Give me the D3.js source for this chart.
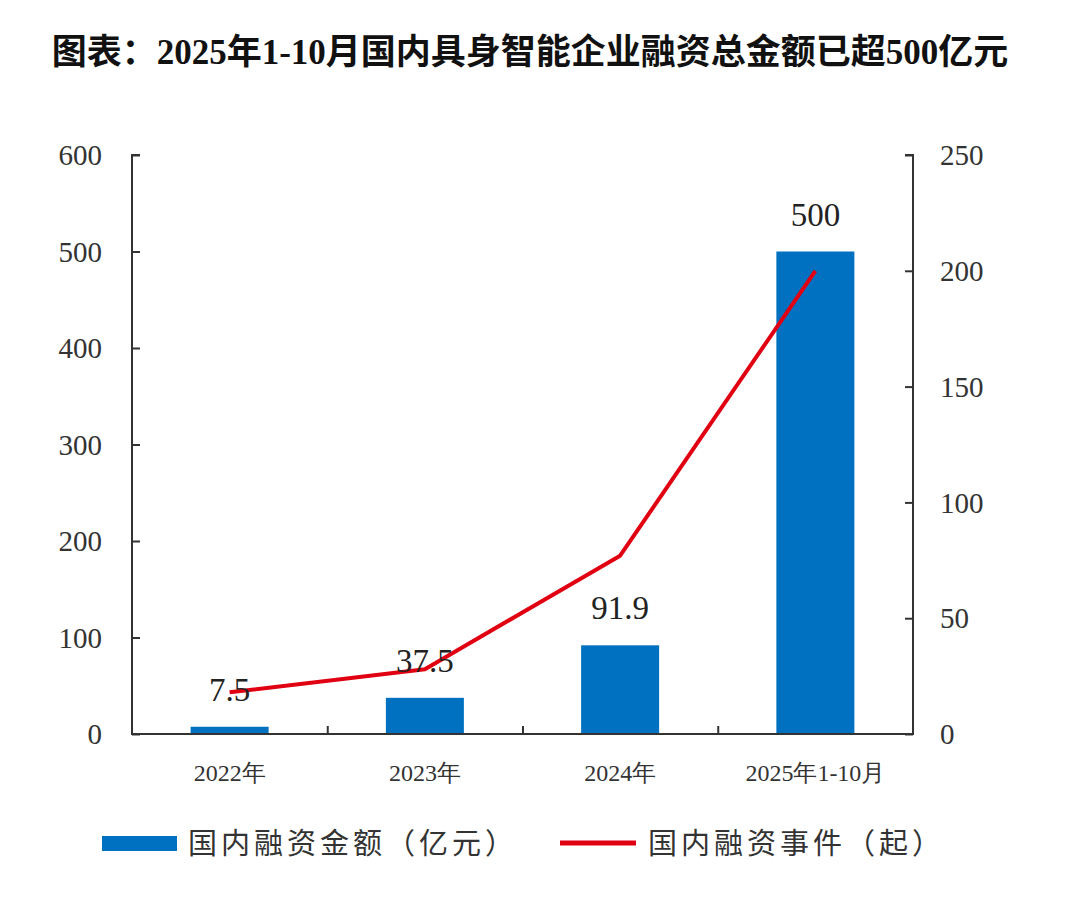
<!DOCTYPE html>
<html><head><meta charset="utf-8">
<script src="https://cdn.jsdelivr.net/npm/d3@7"></script>
<style>body{margin:0;background:#fff;} svg{display:block;}</style>
</head><body>
<svg id="c" width="1080" height="922"></svg>
<script>
const titleText = "图表：2025年1-10月国内具身智能企业融资总金额已超500亿元";
const categories = ["2022年", "2023年", "2024年", "2025年1-10月"];
const amounts = [7.5, 37.5, 91.9, 500];
const amountLabels = ["7.5", "37.5", "91.9", "500"];
const events = [18, 28, 77, 200];
const leftTicks = [0, 100, 200, 300, 400, 500, 600];
const rightTicks = [0, 50, 100, 150, 200, 250];
const seriesNames = ["国内融资金额（亿元）", "国内融资事件（起）"];

const svg = d3.select("#c");
const m = {l: 132, r: 913, t: 155, b: 734};
const serif = "'Liberation Serif','Times New Roman',serif";
const cjk = "'Noto Sans CJK SC','Liberation Serif',serif";

svg.append("text").attr("x", 530).attr("y", 64).attr("text-anchor", "middle")
  .attr("font-family", "'Liberation Serif','Noto Sans CJK SC',serif").attr("font-weight", "bold")
  .attr("font-size", 35).attr("fill", "#111").text(titleText);

const xb = d3.scaleBand().domain(categories).range([m.l, m.r]);
const yL = d3.scaleLinear().domain([0, 600]).range([m.b, m.t]);
const yR = d3.scaleLinear().domain([0, 250]).range([m.b, m.t]);
const cx = i => xb(categories[i]) + xb.bandwidth() / 2;

// bars
svg.append("g").selectAll("rect").data(amounts).join("rect")
  .attr("x", (d, i) => cx(i) - 39)
  .attr("width", 78)
  .attr("y", d => yL(d)).attr("height", d => yL(0) - yL(d))
  .attr("fill", "#0070c0");

// axes
const axisColor = "#333";
const gL = svg.append("g").attr("transform", `translate(${m.l},0)`)
  .call(d3.axisRight(yL).tickValues(leftTicks).tickSize(8).tickFormat(""));
const gR = svg.append("g").attr("transform", `translate(${m.r},0)`)
  .call(d3.axisLeft(yR).tickValues(rightTicks).tickSize(8).tickFormat(""));
const boundaries = categories.slice(1).map(c => xb(c));
const gB = svg.append("g").attr("transform", `translate(0,${m.b})`)
  .call(d3.axisTop(d3.scaleLinear().domain([m.l, m.r]).range([m.l, m.r])).tickValues(boundaries).tickSize(8).tickFormat(""));
[gL, gR, gB].forEach(g => {
  g.select(".domain").attr("stroke", axisColor).attr("stroke-width", 2);
  g.selectAll(".tick line").attr("stroke", axisColor).attr("stroke-width", 2);
});
gL.select(".domain").attr("d", `M8,${m.t}H0V${m.b}H8`);
gR.select(".domain").attr("d", `M-8,${m.t}H0V${m.b}H-8`);
gB.select(".domain").attr("d", `M${m.l},0H${m.r}`);

// tick labels
svg.append("g").selectAll("text").data(leftTicks).join("text")
  .attr("x", 102).attr("y", d => yL(d)).attr("dy", "0.35em").attr("text-anchor", "end")
  .attr("font-family", serif).attr("font-size", 29).attr("fill", "#333").text(d => d);
svg.append("g").selectAll("text").data(rightTicks).join("text")
  .attr("x", 940).attr("y", d => yR(d)).attr("dy", "0.35em").attr("text-anchor", "start")
  .attr("font-family", serif).attr("font-size", 29).attr("fill", "#333").text(d => d);
svg.append("g").selectAll("text").data(categories).join("text")
  .attr("x", (d, i) => cx(i)).attr("y", 781).attr("text-anchor", "middle")
  .attr("font-family", serif).attr("font-size", 24).attr("fill", "#333").text(d => d);

// line
const line = d3.line().x((d, i) => cx(i)).y(d => yR(d));
svg.append("path").datum(events).attr("d", line).attr("fill", "none")
  .attr("stroke", "#e00012").attr("stroke-width", 4).attr("stroke-linejoin", "round");

// bar labels
svg.append("g").selectAll("text").data(amounts).join("text")
  .attr("x", (d, i) => cx(i)).attr("y", d => yL(d) - 26)
  .attr("text-anchor", "middle").attr("font-family", serif).attr("font-size", 33).attr("fill", "#222")
  .text((d, i) => amountLabels[i]);

// legend
svg.append("rect").attr("x", 102).attr("y", 836).attr("width", 75).attr("height", 15).attr("fill", "#0070c0");
svg.append("text").attr("x", 188).attr("y", 854).attr("font-family", cjk).attr("font-size", 29)
  .attr("letter-spacing", 4).attr("fill", "#333").text(seriesNames[0]);
svg.append("line").attr("x1", 560).attr("x2", 636).attr("y1", 843).attr("y2", 843)
  .attr("stroke", "#e00012").attr("stroke-width", 5);
svg.append("text").attr("x", 648).attr("y", 854).attr("font-family", cjk).attr("font-size", 29)
  .attr("letter-spacing", 4).attr("fill", "#333").text(seriesNames[1]);
</script>
</body></html>
